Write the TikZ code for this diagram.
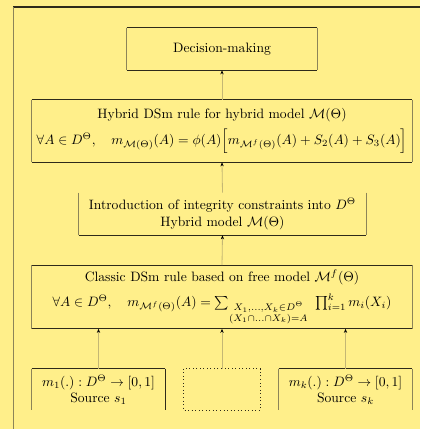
\documentclass[tikz,border=0pt]{standalone}
\usepackage{amsmath,amssymb}
\usetikzlibrary{arrows.meta}
\definecolor{bg}{HTML}{FFEF8A}
\definecolor{hline}{HTML}{2E2A1A}
\definecolor{vline}{HTML}{8C8458}
\definecolor{linec}{HTML}{C4B774}
\newcommand\openbox[2][]{%
  \draw[hedge] (#2.north west) -- (#2.north east) (#2.south west) -- (#2.south east);
  \draw[vedge] (#2.north west) -- (#2.south west) (#2.north east) -- (#2.south east);}
\begin{document}
\begin{tikzpicture}[x=0.735pt,y=-0.735pt,
  hedge/.style={draw=hline,line width=0.6pt},
  vedge/.style={draw=vline,line width=0.6pt},
  blk/.style={inner sep=0pt,align=center,font=\normalsize},
  conn/.style={draw=linec,line width=0.6pt,-{Stealth[black,length=3pt,width=2.4pt]}}]
\fill[bg] (0,0) rectangle (420,429);
\useasboundingbox (0,0) rectangle (420,429);
% outer frame
\coordinate (ftl) at (13,7);
\coordinate (ftr) at (420,7);
\coordinate (fbl) at (13,429);
\draw[hedge,line width=0.8pt] (ftl) -- (ftr);
\draw[vedge] (ftl) -- (fbl);
% boxes
\node[blk,minimum width=139.65pt,minimum height=30.87pt] (dec) at (222,49) {Decision-making};
\node[blk,minimum width=279.3pt,minimum height=45.57pt] (hyb) at (222,131)
  {Hybrid DSm rule for hybrid model $\mathcal{M}(\Theta)$\\[4pt]
   $\forall A\in D^\Theta,\quad m_{\mathcal{M}(\Theta)}(A)=\phi(A)\Big[m_{\mathcal{M}^f(\Theta)}(A)+S_2(A)+S_3(A)\Big]$};
\node[blk,minimum width=210.95pt,minimum height=30.87pt] (intro) at (222.5,214)
  {Introduction of integrity constraints into $D^\Theta$\\[1pt] Hybrid model $\mathcal{M}(\Theta)$};
\node[blk,minimum width=279.3pt,minimum height=46.3pt] (cls) at (222,297)
  {Classic DSm rule based on free model $\mathcal{M}^f(\Theta)$\\[5pt]
   $\forall A\in D^\Theta,\quad m_{\mathcal{M}^f(\Theta)}(A)=\sum_{\substack{X_1,\ldots,X_k\in D^\Theta\\(X_1\cap\ldots\cap X_k)=A}}\ \prod_{i=1}^k m_i(X_i)$};
\node[blk,minimum width=97.76pt,minimum height=30.14pt] (s1) at (98.5,389.5)
  {$m_1(.):D^\Theta\rightarrow[0,1]$\\ Source $s_1$};
\node[blk,minimum width=55.86pt,minimum height=30.14pt] (mid) at (222,389.5) {};
\node[blk,minimum width=97.76pt,minimum height=30.14pt] (sk) at (345.5,389.5)
  {$m_k(.):D^\Theta\rightarrow[0,1]$\\ Source $s_k$};
% box outlines
\openbox{dec}
\openbox{hyb}
\draw[hedge] (cls.north west) -- (cls.north east) (cls.south west) -- (cls.south east);
\draw[vedge] (cls.north west) -- (cls.south west) (cls.north east) -- (cls.south east);
\draw[hedge] (intro.south west) -- (intro.south east);
\draw[vedge] (intro.north west) -- (intro.south west) (intro.north east) -- (intro.south east);
\draw[hedge] (s1.north west) -- (s1.north east);
\draw[vedge] (s1.north west) -- (s1.south west);
\draw[hedge,line width=0.8pt] (s1.north east) -- (s1.south east);
\draw[hedge] (sk.north west) -- (sk.north east);
\draw[vedge] (sk.north west) -- (sk.south west) (sk.north east) -- (sk.south east);
\draw[hedge,dotted,line width=0.6pt] (mid.north west) rectangle (mid.south east);
% connectors
\draw[conn] (hyb.north) -- (dec.south);
\draw[conn] (intro.north) -- (hyb.south);
\draw[conn] (cls.north) -- (intro.south);
\draw[conn] (s1.north) -- (s1.north |- cls.south);
\draw[conn] (mid.north) -- (cls.south);
\draw[conn] (sk.north) -- (sk.north |- cls.south);
\end{tikzpicture}
\end{document}
